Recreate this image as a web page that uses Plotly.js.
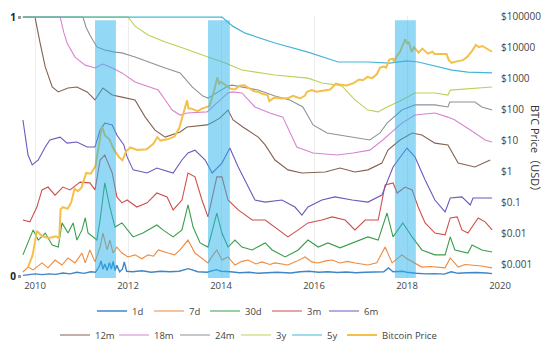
<!DOCTYPE html>
<html>
<head>
<meta charset="utf-8">
<script src="https://cdn.plot.ly/plotly-3.0.1.min.js"></script>
<style>html,body{margin:0;padding:0;background:#fff}#chart{width:554px;height:349px}</style>
</head>
<body>
<div id="chart"></div>
<script>
// ---- data (fraction of supply last moved within the period; BTC price in USD) ----
const x1d = [2009.74,2009.9,2010.0,2010.15,2010.3,2010.45,2010.6,2010.75,2010.9,2011.05,2011.2,2011.3,2011.38,2011.42,2011.46,2011.5,2011.55,2011.6,2011.64,2011.68,2011.72,2011.76,2011.82,2011.88,2011.92,2011.97,2012.1,2012.3,2012.5,2012.7,2012.9,2013.1,2013.3,2013.5,2013.7,2013.9,2014.0,2014.2,2014.4,2014.6,2014.8,2015.0,2015.2,2015.5,2015.7,2015.9,2016.1,2016.3,2016.5,2016.7,2016.9,2017.1,2017.3,2017.5,2017.6,2017.7,2017.9,2018.0,2018.2,2018.4,2018.6,2018.8,2018.95,2019.1,2019.3,2019.5,2019.7,2019.83];
const v1d = [0.006,0.01,0.012,0.009,0.012,0.01,0.015,0.012,0.018,0.014,0.02,0.018,0.04,0.062,0.03,0.05,0.025,0.055,0.03,0.06,0.025,0.045,0.02,0.03,0.058,0.022,0.02,0.024,0.018,0.022,0.02,0.022,0.032,0.02,0.018,0.028,0.022,0.02,0.016,0.018,0.014,0.016,0.018,0.015,0.02,0.022,0.018,0.02,0.017,0.019,0.016,0.018,0.02,0.02,0.035,0.02,0.022,0.018,0.014,0.012,0.013,0.011,0.02,0.014,0.016,0.017,0.015,0.013];

const x7d = [2009.74,2009.85,2009.96,2010.15,2010.28,2010.43,2010.58,2010.71,2010.86,2011.01,2011.08,2011.18,2011.29,2011.4,2011.46,2011.55,2011.61,2011.68,2011.76,2011.87,2012.0,2012.15,2012.3,2012.43,2012.55,2012.65,2012.86,2013.0,2013.12,2013.29,2013.44,2013.6,2013.72,2013.83,2013.91,2014.02,2014.15,2014.3,2014.45,2014.58,2014.75,2014.88,2015.05,2015.16,2015.3,2015.44,2015.62,2015.81,2015.95,2016.09,2016.25,2016.39,2016.56,2016.72,2016.88,2017.05,2017.16,2017.35,2017.53,2017.68,2017.8,2017.89,2018.0,2018.11,2018.32,2018.5,2018.82,2018.93,2019.1,2019.25,2019.46,2019.6,2019.83];
const v7d = [0.019,0.038,0.027,0.054,0.035,0.065,0.046,0.073,0.054,0.092,0.054,0.104,0.058,0.115,0.169,0.104,0.142,0.092,0.115,0.092,0.077,0.085,0.07,0.085,0.08,0.104,0.092,0.085,0.104,0.142,0.092,0.07,0.054,0.085,0.104,0.065,0.077,0.046,0.06,0.065,0.05,0.058,0.048,0.054,0.05,0.046,0.06,0.077,0.058,0.054,0.062,0.065,0.054,0.06,0.054,0.05,0.046,0.055,0.115,0.054,0.07,0.085,0.07,0.058,0.038,0.04,0.035,0.073,0.038,0.048,0.046,0.042,0.035];

const x30d = [2009.74,2009.96,2010.07,2010.22,2010.37,2010.5,2010.58,2010.71,2010.82,2010.9,2011.01,2011.08,2011.14,2011.25,2011.33,2011.4,2011.5,2011.61,2011.72,2011.87,2011.98,2012.11,2012.32,2012.62,2012.75,2012.97,2013.16,2013.29,2013.4,2013.55,2013.72,2013.91,2014.02,2014.15,2014.3,2014.45,2014.67,2014.95,2015.1,2015.38,2015.66,2015.87,2016.09,2016.3,2016.56,2016.82,2017.16,2017.38,2017.57,2017.7,2017.91,2018.11,2018.32,2018.6,2018.82,2018.93,2019.03,2019.31,2019.4,2019.61,2019.83];
const v30d = [0.085,0.181,0.142,0.169,0.123,0.115,0.208,0.169,0.208,0.142,0.181,0.227,0.169,0.154,0.142,0.219,0.362,0.269,0.192,0.208,0.181,0.154,0.169,0.2,0.181,0.154,0.181,0.277,0.192,0.131,0.115,0.246,0.169,0.115,0.142,0.115,0.104,0.131,0.104,0.077,0.104,0.142,0.115,0.131,0.112,0.131,0.154,0.142,0.246,0.154,0.208,0.154,0.104,0.085,0.085,0.154,0.104,0.092,0.123,0.104,0.096];

const x3m = [2009.74,2009.89,2010.04,2010.15,2010.28,2010.43,2010.6,2010.75,2010.97,2011.18,2011.29,2011.4,2011.5,2011.66,2011.76,2011.87,2011.98,2012.19,2012.41,2012.62,2012.84,2012.97,2013.16,2013.29,2013.44,2013.59,2013.72,2013.91,2014.02,2014.15,2014.37,2014.67,2014.95,2015.16,2015.44,2015.66,2015.87,2016.17,2016.39,2016.67,2016.88,2017.1,2017.38,2017.53,2017.7,2017.79,2017.96,2018.11,2018.24,2018.39,2018.6,2018.82,2018.93,2019.08,2019.18,2019.31,2019.53,2019.68,2019.83];
const v3m = [0.219,0.212,0.269,0.335,0.346,0.315,0.346,0.335,0.365,0.362,0.335,0.45,0.469,0.4,0.308,0.285,0.296,0.269,0.285,0.323,0.308,0.258,0.296,0.4,0.385,0.296,0.231,0.385,0.385,0.296,0.258,0.219,0.219,0.192,0.154,0.181,0.208,0.219,0.231,0.219,0.181,0.219,0.219,0.354,0.362,0.323,0.346,0.335,0.269,0.208,0.169,0.162,0.227,0.231,0.181,0.169,0.227,0.212,0.181];

const x6m = [2009.74,2009.79,2009.85,2009.94,2010.07,2010.22,2010.32,2010.54,2010.69,2010.9,2011.12,2011.29,2011.4,2011.5,2011.66,2011.76,2011.91,2011.98,2012.11,2012.41,2012.62,2012.97,2013.16,2013.29,2013.44,2013.66,2013.81,2014.02,2014.19,2014.37,2014.58,2014.73,2014.95,2015.31,2015.59,2015.74,2015.87,2016.17,2016.45,2016.82,2017.16,2017.46,2017.7,2018.0,2018.17,2018.39,2018.6,2018.82,2018.93,2019.18,2019.36,2019.42,2019.83];
const v6m = [0.604,0.546,0.469,0.431,0.45,0.5,0.527,0.538,0.515,0.519,0.5,0.5,0.565,0.592,0.585,0.546,0.508,0.462,0.412,0.4,0.419,0.4,0.45,0.477,0.488,0.45,0.4,0.438,0.496,0.423,0.346,0.296,0.288,0.296,0.269,0.238,0.269,0.296,0.308,0.296,0.288,0.315,0.423,0.496,0.462,0.373,0.296,0.25,0.304,0.308,0.277,0.304,0.304];

const x12m = [2009.74,2010.0,2010.11,2010.22,2010.37,2010.5,2010.71,2010.9,2011.12,2011.29,2011.46,2011.66,2011.87,2012.15,2012.37,2012.58,2012.8,2013.12,2013.27,2013.7,2013.83,2013.98,2014.15,2014.26,2014.47,2014.8,2014.95,2015.16,2015.44,2015.74,2016.24,2016.56,2016.88,2017.16,2017.46,2017.59,2017.85,2018.11,2018.32,2018.6,2018.88,2019.1,2019.46,2019.79];
const v12m = [1,1,0.9,0.808,0.731,0.712,0.727,0.731,0.712,0.681,0.727,0.7,0.692,0.681,0.615,0.565,0.538,0.558,0.577,0.585,0.596,0.612,0.642,0.604,0.577,0.538,0.508,0.45,0.412,0.4,0.404,0.419,0.404,0.412,0.438,0.488,0.527,0.554,0.546,0.515,0.508,0.438,0.423,0.45];

const x18m = [2009.74,2010.54,2010.62,2010.69,2010.86,2011.08,2011.29,2011.46,2011.66,2011.87,2012.15,2012.43,2012.65,2012.8,2012.95,2013.12,2013.27,2013.7,2013.94,2014.15,2014.24,2014.45,2014.73,2015.05,2015.33,2015.48,2015.63,2015.98,2016.5,2016.84,2017.2,2017.48,2017.89,2018.17,2018.6,2018.88,2019.03,2019.46,2019.68,2019.83];
const v18m = [1,1,0.94,0.9,0.846,0.815,0.804,0.819,0.804,0.785,0.75,0.731,0.719,0.681,0.642,0.623,0.631,0.635,0.673,0.708,0.712,0.708,0.654,0.631,0.615,0.554,0.5,0.477,0.469,0.477,0.488,0.527,0.592,0.623,0.631,0.615,0.604,0.554,0.527,0.519];

const x24m = [2009.74,2011.03,2011.1,2011.18,2011.33,2011.5,2011.72,2011.87,2012.15,2012.43,2012.8,2013.12,2013.38,2013.61,2013.72,2013.94,2014.15,2014.24,2014.8,2015.16,2015.48,2015.76,2015.98,2016.28,2016.84,2017.2,2017.42,2017.57,2017.89,2018.17,2018.6,2018.88,2018.92,2019.46,2019.61,2019.83];
const v24m = [1,1,0.96,0.931,0.885,0.873,0.865,0.862,0.846,0.827,0.804,0.785,0.731,0.696,0.688,0.712,0.735,0.738,0.719,0.696,0.681,0.654,0.585,0.554,0.538,0.527,0.554,0.592,0.642,0.662,0.662,0.654,0.673,0.673,0.654,0.642];

const x3y = [2009.74,2012.0,2012.15,2012.43,2012.8,2013.12,2013.72,2014.09,2014.45,2015.16,2015.87,2016.17,2016.52,2016.6,2016.88,2017.16,2017.38,2017.53,2017.89,2018.17,2018.6,2018.88,2018.93,2019.46,2019.83];
const v3y = [1,1,0.965,0.931,0.904,0.885,0.846,0.823,0.796,0.777,0.765,0.746,0.738,0.735,0.681,0.642,0.635,0.65,0.681,0.708,0.708,0.7,0.719,0.727,0.731];

const x5y = [2009.74,2014.02,2014.25,2014.52,2015.16,2015.87,2016.52,2017.16,2017.63,2018.0,2018.24,2018.75,2018.97,2019.31,2019.83];
const v5y = [1,1,0.965,0.938,0.9,0.865,0.827,0.827,0.823,0.831,0.827,0.804,0.796,0.788,0.785];

const xPrice = [2009.85,2009.95,2010.04,2010.15,2010.3,2010.45,2010.52,2010.55,2010.6,2010.7,2010.78,2010.85,2010.92,2011.0,2011.1,2011.2,2011.3,2011.38,2011.44,2011.5,2011.6,2011.7,2011.8,2011.88,2011.96,2012.05,2012.2,2012.4,2012.55,2012.63,2012.7,2012.85,2013.0,2013.1,2013.2,2013.27,2013.3,2013.35,2013.5,2013.6,2013.75,2013.85,2013.92,2013.96,2014.0,2014.1,2014.2,2014.3,2014.4,2014.5,2014.6,2014.7,2014.8,2014.9,2015.0,2015.04,2015.15,2015.3,2015.45,2015.55,2015.7,2015.8,2015.85,2015.95,2016.05,2016.2,2016.35,2016.47,2016.55,2016.7,2016.85,2016.97,2017.05,2017.15,2017.25,2017.35,2017.42,2017.5,2017.55,2017.62,2017.7,2017.72,2017.78,2017.85,2017.9,2017.96,2018.0,2018.04,2018.1,2018.15,2018.25,2018.33,2018.45,2018.55,2018.6,2018.75,2018.85,2018.9,2018.96,2019.05,2019.2,2019.3,2019.4,2019.48,2019.55,2019.62,2019.7,2019.78,2019.83];
const vPrice = [0.0008,0.002,0.012,0.008,0.007,0.008,0.007,0.06,0.07,0.062,0.1,0.28,0.23,0.3,0.9,0.85,1.5,8,30,15,11,5,3,2.3,4.5,6,5,5.2,8,13,10,11,13.5,25,90,200,110,110,90,110,130,400,1100,700,800,600,480,450,600,620,500,400,380,320,300,190,250,230,240,280,230,280,380,430,380,420,450,700,650,610,720,950,900,1150,1050,1400,2300,2500,2300,4200,4500,3500,5500,7500,11000,19000,14000,15000,7500,10500,7000,9500,6500,7500,6300,6500,6300,4000,3300,3600,4000,5200,8000,12500,10500,11500,9800,8200,7500];

const bandStart = [2011.29, 2013.72, 2017.74];
const bandEnd   = [2011.74, 2014.19, 2018.19];

const xTicks = [2010, 2012, 2014, 2016, 2018, 2020];
const priceTicks = [0.001, 0.01, 0.1, 1, 10, 100, 1000, 10000, 100000];
const priceTickText = ['$0.001','$0.01','$0.1','$1','$10','$100','$1000','$10000','$100000'];

// ---- traces ----
const series = [
  {name:'1d',  x:x1d,  y:v1d,  color:'#3f86c8', lg:'legend',  lw:12, w:1.4},
  {name:'7d',  x:x7d,  y:v7d,  color:'#f08a3c', lg:'legend',  lw:11, w:1.1},
  {name:'30d', x:x30d, y:v30d, color:'#3a9e4a', lg:'legend',  lw:17, w:1.1},
  {name:'3m',  x:x3m,  y:v3m,  color:'#cf4f4b', lg:'legend',  lw:12, w:1.1},
  {name:'6m',  x:x6m,  y:v6m,  color:'#6f56bd', lg:'legend',  lw:null, w:1.1},
  {name:'12m', x:x12m, y:v12m, color:'#85614f', lg:'legend2', lw:14, w:1.1},
  {name:'18m', x:x18m, y:v18m, color:'#d885cf', lg:'legend2', lw:16, w:1.1},
  {name:'24m', x:x24m, y:v24m, color:'#8a939c', lg:'legend2', lw:16, w:1.1},
  {name:'3y',  x:x3y,  y:v3y,  color:'#bfcf58', lg:'legend2', lw:6,  w:1.1},
  {name:'5y',  x:x5y,  y:v5y,  color:'#45b5d5', lg:'legend2', lw:10, w:1.2}
];
const traces = series.map(s => {
  const t = {type:'scatter', mode:'lines', name:s.name, x:s.x, y:s.y,
    line:{color:s.color, width:s.w}, legend:s.lg, hoverinfo:'skip'};
  if (s.lw) t.legendwidth = s.lw;
  return t;
});
traces.push({type:'scatter', mode:'lines', name:'Bitcoin Price', x:xPrice, y:vPrice,
  yaxis:'y2', line:{color:'#f5c04a', width:2}, legend:'legend2', hoverinfo:'skip'});

const shapes = bandStart.map((s,i) => ({type:'rect', xref:'x', yref:'y', x0:s, x1:bandEnd[i],
  y0:-0.004, y1:0.988, fillcolor:'rgba(40,180,235,0.5)', line:{width:0}, layer:'above'}));

const legendBase = {orientation:'h', xref:'container', yref:'container', xanchor:'left', yanchor:'middle',
  font:{family:'Open Sans, sans-serif', size:9.5, color:'#444'}, bgcolor:'rgba(0,0,0,0)', itemwidth:30, tracegroupgap:0};

const layout = {
  width:554, height:349,
  margin:{l:22, r:54, t:16, b:71},
  paper_bgcolor:'#fff', plot_bgcolor:'#fff',
  font:{family:'Open Sans, sans-serif', color:'#444'},
  showlegend:true,
  legend: Object.assign({}, legendBase, {x:92/554, y:1-311/349}),
  legend2: Object.assign({}, legendBase, {x:55/554, y:1-335/349}),
  xaxis:{range:[2009.72, 2020.0], tickvals:xTicks, ticktext:xTicks.map(String), showgrid:true,
    gridcolor:'#ededed', gridwidth:1, zeroline:false, showline:false, ticks:'',
    tickfont:{size:9.5, color:'#444'}},
  yaxis:{range:[-0.004, 1.004], tickvals:[0,1], ticktext:['<b>0</b>','<b>1</b>'], showgrid:false,
    zeroline:false, showline:false, ticks:'outside', ticklen:3, tickwidth:3, tickcolor:'#999',
    tickfont:{size:10, color:'#222'}},
  yaxis2:{type:'log', overlaying:'y', side:'right', range:[-3.447, 5.032], tickvals:priceTicks,
    ticktext:priceTickText, showgrid:false, zeroline:false, showline:false, ticks:'',
    tickfont:{size:10, color:'#444'}},
  shapes: shapes,
  annotations:[{text:'BTC Price（USD）', xref:'paper', yref:'paper', x:(536-22)/478, y:(278-151)/262,
    xanchor:'center', yanchor:'middle', showarrow:false, textangle:90,
    font:{family:'Open Sans, Noto Sans CJK SC, sans-serif', size:11, color:'#333'}}]
};

Plotly.newPlot('chart', traces, layout, {staticPlot:true, displayModeBar:false});
</script>
</body>
</html>
